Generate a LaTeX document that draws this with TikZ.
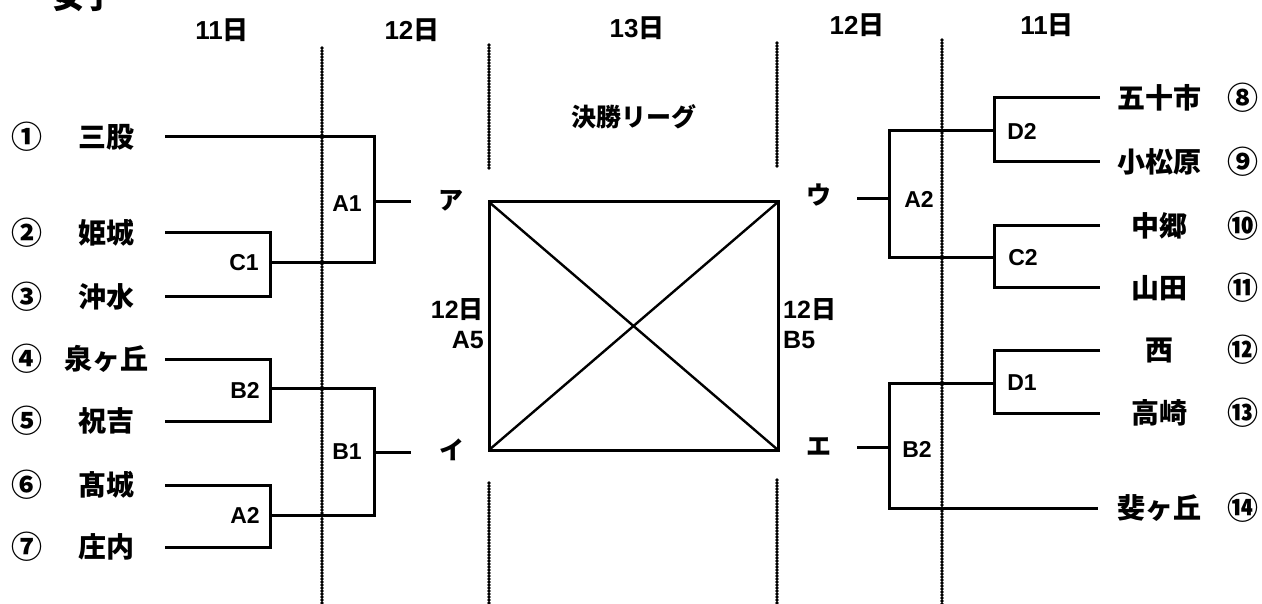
\documentclass[tikz,border=0pt]{standalone}
\usepackage{fontspec}
\setmainfont{Liberation Sans}
\newfontfamily\jp{Noto Sans CJK JP}
\begin{document}
\begin{tikzpicture}[x=1pt,y=-1pt,
  br/.style={line width=3pt},
  dl/.style={line width=3.6pt,line cap=round,dash pattern=on 0pt off 3pt},
  hdr/.style={font=\fontsize{26}{28}\selectfont\bfseries},
  team/.style={font=\jp\fontsize{28}{30}\selectfont\bfseries},
  num/.style={font=\jp\fontsize{31}{33}\selectfont\bfseries},
  lab/.style={font=\fontsize{23}{25}\selectfont\bfseries},
  kana/.style={font=\jp\fontsize{25}{27}\selectfont\bfseries},
  side/.style={font=\fontsize{25}{27}\selectfont\bfseries,align=right,inner sep=0pt}]
\useasboundingbox (0,0) rectangle (1262,604);
% title (cut at the top, as in the original scan)
\node[font=\jp\fontsize{32}{34}\selectfont\bfseries] (title) at (84,-4) {女子};
% headers
\node[hdr] (h1) at (222,30) {11{\jp 日}};
\node[hdr] (h2) at (412,30) {12{\jp 日}};
\node[hdr] (h3) at (637,28) {13{\jp 日}};
\node[hdr] (h4) at (857,25) {12{\jp 日}};
\node[hdr] (h5) at (1047,25) {11{\jp 日}};
% dotted day separators
\coordinate (d1a) at (322,48); \coordinate (d1b) at (322,604);
\coordinate (d2a) at (489,45); \coordinate (d2b) at (489,168);
\coordinate (d2c) at (489,483); \coordinate (d2d) at (489,604);
\coordinate (d3a) at (777,43); \coordinate (d3b) at (777,166);
\coordinate (d3c) at (777,480); \coordinate (d3d) at (777,604);
\coordinate (d4a) at (942,40); \coordinate (d4b) at (942,604);
\draw[dl] (d1a) -- (d1b);
\draw[dl] (d2a) -- (d2b); \draw[dl] (d2c) -- (d2d);
\draw[dl] (d3a) -- (d3b); \draw[dl] (d3c) -- (d3d);
\draw[dl] (d4a) -- (d4b);
% final league
\node[font=\jp\fontsize{25}{27}\selectfont\bfseries] (kessho) at (634,117) {決勝リーグ};
\coordinate (sq1) at (489,202); \coordinate (sq2) at (778,202);
\coordinate (sq3) at (778,450); \coordinate (sq4) at (489,450);
\draw[br] (sq1) -- (sq2) -- (sq3) -- (sq4) -- cycle;
\draw[line width=2.4pt] (sq1) -- (sq3);
\draw[line width=2.4pt] (sq4) -- (sq2);
\node[side,anchor=east] (a5) at (484,324) {12{\jp 日}\\[3pt]A5};
\node[side,anchor=west,align=left] (b5) at (783,324) {12{\jp 日}\\[3pt]B5};
% left teams
\foreach \n/\t/\y in {①/三股/137,②/姫城/233,③/沖水/297,④/泉ヶ丘/359,⑤/祝吉/421,⑥/髙城/485,⑦/庄内/547}{
  \node[num] (ln\y) at (27,\y) {\n};
  \node[team] (lt\y) at (106,\y) {\t};
  \coordinate (le\y) at (165,\y);
}
% right teams
\foreach \n/\t/\y in {⑧/五十市/98,⑨/小松原/162,⑩/中郷/226,⑪/山田/288,⑫/西/350,⑬/高崎/413,⑭/斐ヶ丘/508}{
  \node[num] (rn\y) at (1243,\y) {\n};
  \node[team] (rt\y) at (1159,\y) {\t};
  \coordinate (re\y) at (1100,\y);
}
% left bracket
\coordinate (a1t) at (374,137); \coordinate (a1b) at (374,263);
\coordinate (c1t) at (270,233); \coordinate (c1b) at (270,297); \coordinate (c1o) at (270,263);
\coordinate (b2t) at (270,359); \coordinate (b2b) at (270,421); \coordinate (b2o) at (270,388);
\coordinate (a2t) at (270,485); \coordinate (a2b) at (270,547); \coordinate (a2o) at (270,515);
\coordinate (b1t) at (374,388); \coordinate (b1b) at (374,515);
\coordinate (a1o) at (374,202); \coordinate (a1e) at (411,202);
\coordinate (b1o) at (374,452); \coordinate (b1e) at (411,452);
\draw[br] (le137) -- (a1t) -- (a1b) -- (c1o);
\draw[br] (le233) -- (c1t) -- (c1b) -- (le297);
\draw[br] (le359) -- (b2t) -- (b2b) -- (le421);
\draw[br] (le485) -- (a2t) -- (a2b) -- (le547);
\draw[br] (b2o) -- (b1t) -- (b1b) -- (a2o);
\draw[br] (a1o) -- (a1e);
\draw[br] (b1o) -- (b1e);
\node[lab] (lC1) at (244,263) {C1};
\node[lab] (lB2) at (245,390) {B2};
\node[lab] (lA2) at (245,515) {A2};
\node[lab] (lA1) at (347,204) {A1};
\node[lab] (lB1) at (347,452) {B1};
\node[kana] (ka) at (451,201) {ア};
\node[kana] (ki) at (452,450) {イ};
% right bracket
\coordinate (d2t) at (994,98); \coordinate (d2b) at (994,162); \coordinate (d2o) at (994,131);
\coordinate (c2t) at (994,226); \coordinate (c2b) at (994,288); \coordinate (c2o) at (994,258);
\coordinate (d1t) at (994,350); \coordinate (d1b) at (994,413); \coordinate (d1o) at (994,383);
\coordinate (ra2t) at (889,131); \coordinate (ra2b) at (889,258);
\coordinate (rb2t) at (889,383); \coordinate (rb2b) at (889,508);
\coordinate (ra2o) at (889,199); \coordinate (ra2e) at (857,199);
\coordinate (rb2o) at (889,447); \coordinate (rb2e) at (857,447);
\coordinate (re508b) at (1098,508);
\draw[br] (re98) -- (d2t) -- (d2b) -- (re162);
\draw[br] (re226) -- (c2t) -- (c2b) -- (re288);
\draw[br] (re350) -- (d1t) -- (d1b) -- (re413);
\draw[br] (d2o) -- (ra2t) -- (ra2b) -- (c2o);
\draw[br] (d1o) -- (rb2t) -- (rb2b) -- (re508b);
\draw[br] (ra2o) -- (ra2e);
\draw[br] (rb2o) -- (rb2e);
\node[lab] (lD2) at (1022,131) {D2};
\node[lab] (lC2) at (1023,258) {C2};
\node[lab] (lD1) at (1022,383) {D1};
\node[lab] (rA2) at (919,199) {A2};
\node[lab] (rB2) at (917,449) {B2};
\node[kana] (ku) at (819,195) {ウ};
\node[kana] (ke) at (819,447) {エ};
\end{tikzpicture}
\end{document}
